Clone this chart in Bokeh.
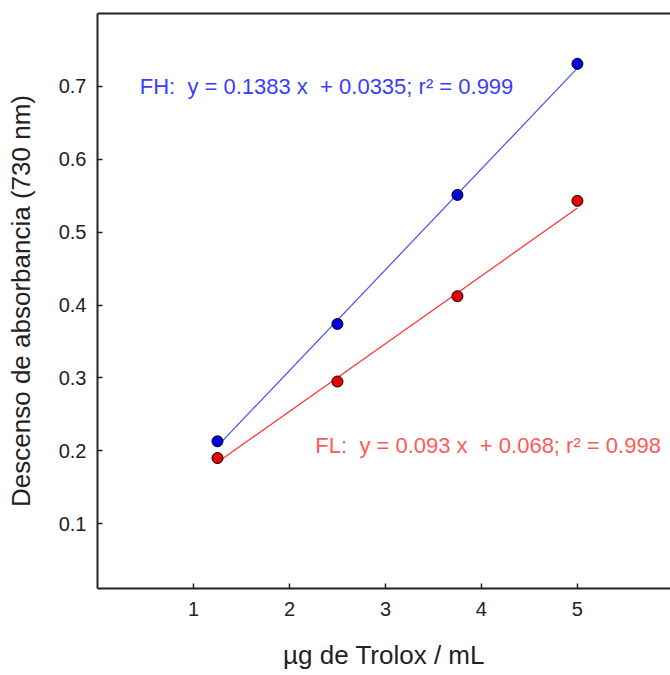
from bokeh.plotting import figure
from bokeh.models import Range1d, LinearAxis, FixedTicker, Label
from bokeh.embed import file_html
from bokeh.resources import INLINE

# ---- data ----
trolox = [1.25, 2.5, 3.75, 5.0]
fh_abs = [0.213, 0.374, 0.551, 0.731]
fl_abs = [0.190, 0.295, 0.412, 0.543]
fh_slope, fh_intercept = 0.1383, 0.0335
fl_slope, fl_intercept = 0.093, 0.068
fit_x = [1.25, 5.0]
x_ticks = [1, 2, 3, 4, 5]
y_ticks = [0.1, 0.2, 0.3, 0.4, 0.5, 0.6, 0.7]
NB = "\u00a0"
fh_label = f"FH:{NB}{NB}y = 0.1383 x{NB}{NB}+ 0.0335; r\u00b2 = 0.999"
fl_label = f"FL:{NB}{NB}y = 0.093 x{NB}{NB}+ 0.068; r\u00b2 = 0.998"
x_title = "\u00b5g de Trolox / mL"
y_title = "Descenso de absorbancia (730 nm)"

FONT = "Liberation Sans"

p = figure(width=670, height=675, x_range=Range1d(0, 5.97), y_range=Range1d(0.011, 0.8),
           output_backend="svg", toolbar_location=None,
           min_border_left=97, min_border_top=13, min_border_right=0, min_border_bottom=87)
p.background_fill_color = "white"
p.border_fill_color = "white"
p.outline_line_color = None
p.grid.visible = False

fh_fit = [fh_slope * x + fh_intercept for x in fit_x]
fl_fit = [fl_slope * x + fl_intercept for x in fit_x]
p.line(fit_x, fh_fit, line_color="#4a4aff", line_width=1.2)
p.line(fit_x, fl_fit, line_color="#ff3030", line_width=1.2)
p.scatter(trolox, fh_abs, size=11, fill_color="#0000e0", line_color="black", line_width=1)
p.scatter(trolox, fl_abs, size=11, fill_color="#e80000", line_color="black", line_width=1)

for ax in (p.xaxis[0], p.yaxis[0]):
    ax.axis_line_width = 2
    ax.axis_line_color = "#222222"
    ax.major_tick_line_color = "#222222"
    ax.major_tick_line_width = 1.5
    ax.major_tick_in = 5
    ax.major_tick_out = 0
    ax.minor_tick_line_color = None
    ax.major_label_text_font = FONT
    ax.major_label_text_font_size = "20px"
    ax.major_label_text_color = "#222222"
    ax.axis_label_text_font = FONT
    ax.axis_label_text_font_size = "26px"
    ax.axis_label_text_font_style = "normal"
    ax.axis_label_text_color = "#222222"

p.xaxis.ticker = FixedTicker(ticks=x_ticks)
p.yaxis.ticker = FixedTicker(ticks=y_ticks)
p.xaxis.major_label_overrides = {t: str(t) for t in x_ticks}
p.yaxis.major_label_overrides = {t: f"{t:.1f}" for t in y_ticks}
p.xaxis.axis_label = x_title
p.yaxis.axis_label = y_title
p.xaxis.major_label_standoff = 13
p.yaxis.major_label_standoff = 11
p.xaxis.axis_label_standoff = 21
p.yaxis.axis_label_standoff = 20

top = LinearAxis(ticker=FixedTicker(ticks=[]), axis_line_width=2, axis_line_color="#222222",
                 major_tick_line_color=None, minor_tick_line_color=None,
                 major_label_text_font_size="0px", major_label_standoff=0)
p.add_layout(top, "above")

p.add_layout(Label(x=0.44, y=0.7, text=fh_label, text_baseline="middle",
                   text_color="#3c3cff", text_font=FONT, text_font_size="22px"))
p.add_layout(Label(x=2.27, y=0.207, text=fl_label, text_baseline="middle",
                   text_color="#ff5a5a", text_font=FONT, text_font_size="22px"))

open("out.html", "w").write(file_html(p, INLINE))
